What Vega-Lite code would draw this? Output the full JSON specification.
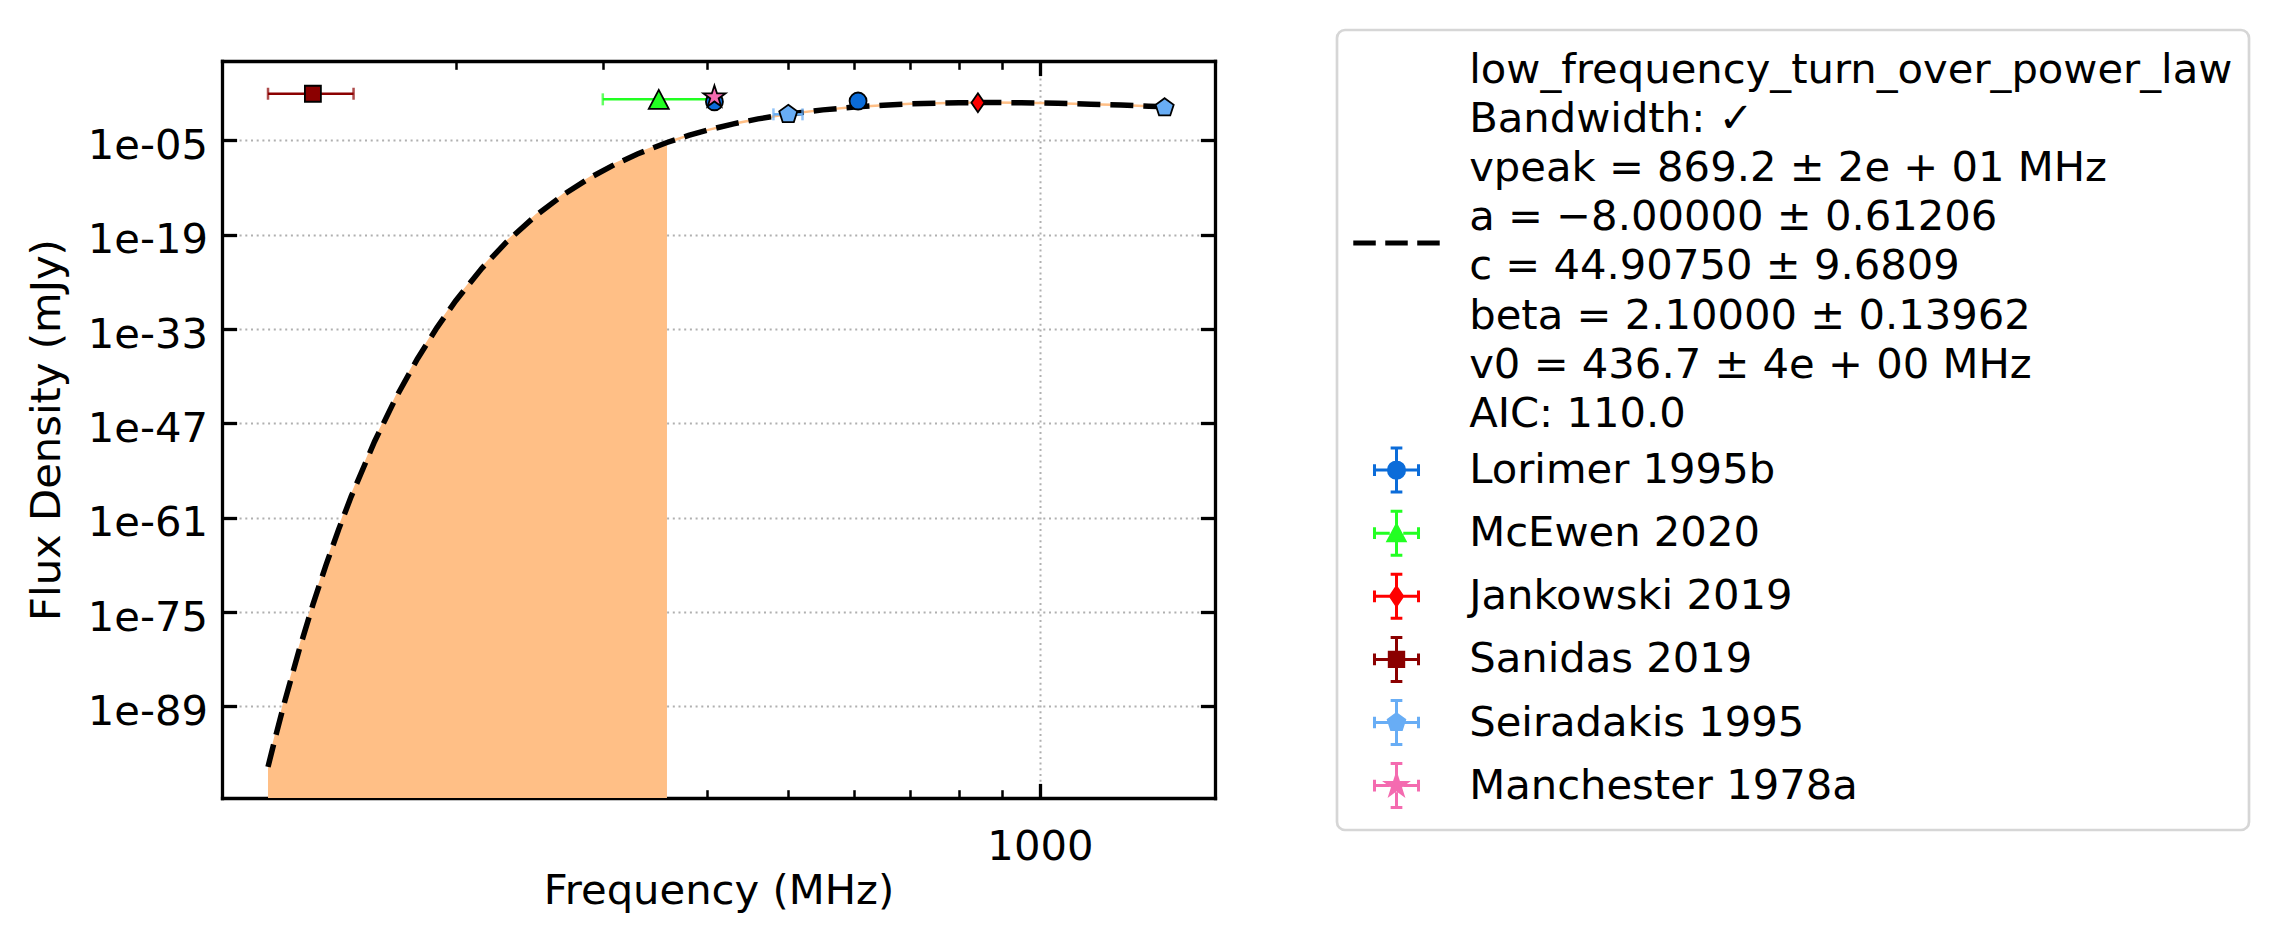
{
  "$schema": "https://vega.github.io/schema/vega-lite/v6.json",
  "width": 993,
  "height": 737,
  "padding": {"left": 26, "top": 28, "right": 5, "bottom": 5},
  "background": "white",
  "config": {
    "view": {"stroke": null},
    "font": "DejaVu Sans",
    "style": {"guide-label": {"lineHeight": 49.1}},
    "legend": {"strokeWidth": 2.7, "symbolOpacity": 1},
    "axis": {
      "labelFont": "DejaVu Sans", "titleFont": "DejaVu Sans",
      "labelFontSize": 41.7, "titleFontSize": 41.7,
      "labelColor": "black", "titleColor": "black", "titleFontWeight": "normal",
      "domainColor": "black", "domainWidth": 3.3, "domainCap": "square",
      "tickColor": "black", "tickWidth": 3.3,
      "gridColor": "#b0b0b0", "gridDash": [2, 3.7], "gridWidth": 2,
      "zindex": 1, "labelFlush": false, "labelOverlap": false
    }
  },
  "datasets": {
    "curve": [
      {"series": "fit", "freq": 119.3, "flux": 1.12e-98},
      {"series": "fit", "freq": 122, "flux": 7.41e-94},
      {"series": "fit", "freq": 125, "flux": 7.41e-89},
      {"series": "fit", "freq": 130, "flux": 2.63e-81},
      {"series": "fit", "freq": 135, "flux": 1.29e-74},
      {"series": "fit", "freq": 140, "flux": 1.07e-68},
      {"series": "fit", "freq": 145, "flux": 2.24e-63},
      {"series": "fit", "freq": 150, "flux": 1.38e-58},
      {"series": "fit", "freq": 160, "flux": 2.09e-50},
      {"series": "fit", "freq": 170, "flux": 1.02e-43},
      {"series": "fit", "freq": 180, "flux": 3.63e-38},
      {"series": "fit", "freq": 190, "flux": 1.66e-33},
      {"series": "fit", "freq": 200, "flux": 1.48e-29},
      {"series": "fit", "freq": 215, "flux": 1.05e-24},
      {"series": "fit", "freq": 230, "flux": 7.94e-21},
      {"series": "fit", "freq": 250, "flux": 8.71e-17},
      {"series": "fit", "freq": 270, "flux": 1.12e-13},
      {"series": "fit", "freq": 290, "flux": 3.09e-11},
      {"series": "fit", "freq": 310, "flux": 2.63e-9},
      {"series": "fit", "freq": 330, "flux": 9.55e-8},
      {"series": "fit", "freq": 358, "flux": 4.79e-6},
      {"series": "fit", "freq": 380, "flux": 5.37e-5},
      {"series": "fit", "freq": 400, "flux": 3.24e-4},
      {"series": "fit", "freq": 430, "flux": 2.82e-3},
      {"series": "fit", "freq": 460, "flux": 0.0151},
      {"series": "fit", "freq": 500, "flux": 0.0794},
      {"series": "fit", "freq": 550, "flux": 0.331},
      {"series": "fit", "freq": 600, "flux": 0.871},
      {"series": "fit", "freq": 650, "flux": 1.66},
      {"series": "fit", "freq": 700, "flux": 2.57},
      {"series": "fit", "freq": 750, "flux": 3.31},
      {"series": "fit", "freq": 800, "flux": 3.80},
      {"series": "fit", "freq": 870, "flux": 4.07},
      {"series": "fit", "freq": 950, "flux": 3.80},
      {"series": "fit", "freq": 1050, "flux": 3.09},
      {"series": "fit", "freq": 1150, "flux": 2.34},
      {"series": "fit", "freq": 1250, "flux": 1.70},
      {"series": "fit", "freq": 1350, "flux": 1.17},
      {"series": "fit", "freq": 1439, "flux": 0.871}
    ],
    "pts": [
      {"series": "Lorimer 1995b", "freq": 408, "flux": 5.3},
      {"series": "Lorimer 1995b", "freq": 606, "flux": 6.8},
      {"series": "McEwen 2020", "freq": 350, "flux": 12.1, "xlo": 300, "xhi": 400},
      {"series": "Jankowski 2019", "freq": 843, "flux": 3.8},
      {"series": "Sanidas 2019", "freq": 135, "flux": 82, "xlo": 119.3, "xhi": 151},
      {"series": "Seiradakis 1995", "freq": 500, "flux": 0.072, "xlo": 480, "xhi": 520},
      {"series": "Seiradakis 1995", "freq": 1410, "flux": 0.69},
      {"series": "Manchester 1978a", "freq": 408, "flux": 26.5}
    ]
  },
  "layer": [
    {
      "data": {"name": "curve"},
      "transform": [{"filter": "datum.freq <= 358"}],
      "mark": {"type": "area", "color": "#ffbf86", "opacity": 1, "clip": true},
      "encoding": {
        "x": {"field": "freq", "type": "quantitative", "scale": {"type": "log", "domain": [105.1, 1619.7], "nice": false},
          "axis": {"orient": "bottom", "values": [1000], "format": "d", "title": "Frequency (MHz)", "tickSize": -14.6, "labelPadding": 43, "titlePadding": 2, "grid": true}},
        "y": {"field": "flux", "type": "quantitative", "scale": {"type": "log", "domain": [2.63e-103, 5.9e6], "nice": false},
          "axis": {"orient": "left", "values": [1e-5, 1e-19, 1e-33, 1e-47, 1e-61, 1e-75, 1e-89], "labelExpr": "'1e-' + format(-round(log(datum.value) / LN10), '02d')", "title": "Flux Density (mJy)", "tickSize": -14.6, "labelPadding": 29, "labelOffset": 5, "titlePadding": 18.4, "grid": true}},
        "y2": {"datum": 1e-110}
      }
    },
    {
      "data": {"name": "curve"},
      "mark": {"type": "line", "color": "#ffbf86", "strokeWidth": 2.5, "clip": true},
      "encoding": {
        "x": {"field": "freq", "type": "quantitative", "scale": {"type": "log", "domain": [105.1, 1619.7], "nice": false},
          "axis": {"orient": "top", "values": [1000], "labels": false, "title": null, "tickSize": -14.6, "grid": false}},
        "y": {"field": "flux", "type": "quantitative", "scale": {"type": "log", "domain": [2.63e-103, 5.9e6], "nice": false},
          "axis": {"orient": "right", "values": [1e-5, 1e-19, 1e-33, 1e-47, 1e-61, 1e-75, 1e-89], "labels": false, "title": null, "tickSize": -14.6, "grid": false}}
      }
    },
    {
      "data": {"name": "curve"},
      "mark": {"type": "line", "strokeDash": [23, 10], "strokeWidth": 5.5, "clip": true},
      "encoding": {
        "x": {"field": "freq", "type": "quantitative", "scale": {"type": "log", "domain": [105.1, 1619.7], "nice": false},
          "axis": {"orient": "bottom", "values": [200, 300, 400, 500, 600, 700, 800, 900], "labels": false, "title": null, "tickSize": -8.3, "tickWidth": 2.5, "domain": false, "grid": false}},
        "y": {"field": "flux", "type": "quantitative", "scale": {"type": "log", "domain": [2.63e-103, 5.9e6], "nice": false}, "axis": null},
        "color": {"field": "series", "type": "nominal",
          "scale": {"domain": ["fit", "Lorimer 1995b", "McEwen 2020", "Jankowski 2019", "Sanidas 2019", "Seiradakis 1995", "Manchester 1978a"],
                    "range": ["#000000", "#0b6cd9", "#22ff22", "#ff0000", "#8b0000", "#68adf5", "#f46bb0"]},
          "legend": {
            "title": null, "orient": "none", "legendX": 1115, "legendY": -31, "direction": "vertical", "columns": 1,
            "padding": 16, "strokeColor": "#d6d6d6", "cornerRadius": 8, "fillColor": "white",
            "symbolSize": 2025, "symbolStrokeWidth": 3, "symbolOffset": 19.5, "symbolOpacity": 1, "labelOffset": 48.7, "rowPadding": 5.1,
            "labelFont": "DejaVu Sans", "labelFontSize": 41.7, "labelColor": "black", "labelLimit": 2000,
            "labelExpr": "datum.value == 'fit' ? ['low_frequency_turn_over_power_law', 'Bandwidth: ✓', 'vpeak = 869.2 ± 2e + 01 MHz', 'a = −8.00000 ± 0.61206', 'c = 44.90750 ± 9.6809', 'beta = 2.10000 ± 0.13962', 'v0 = 436.7 ± 4e + 00 MHz', 'AIC: 110.0'] : datum.label",
            "encode": {
              "labels": {
                "update": {
                  "text": {"signal": "datum.value == 'fit' ? ['low_frequency_turn_over_power_law', 'Bandwidth: ✓', 'vpeak = 869.2 ± 2e + 01 MHz', 'a = −8.00000 ± 0.61206', 'c = 44.90750 ± 9.6809', 'beta = 2.10000 ± 0.13962', 'v0 = 436.7 ± 4e + 00 MHz', 'AIC: 110.0'] : datum.label"}
                }
              },
              "symbols": {
                "update": {
                  "y": {"signal": "datum.size * 0.5 + (datum.value == 'fit' ? 173 : 0)"},
                  "shape": {"signal": "datum.value == 'fit' ? 'M-1.854,-0.044H-0.988V0.044H-1.854ZM-0.433,-0.044H0.433V0.044H-0.433ZM0.988,-0.044H1.854V0.044H0.988Z' : 'M-0.978,0H-0.3M0.3,0H0.978M0,-0.978V-0.3M0,0.3V0.978M-0.978,-0.26V0.26M0.978,-0.26V0.26M-0.26,-0.978H0.26M-0.26,0.978H0.26' + (datum.value == 'Lorimer 1995b' ? 'M0.36,0A0.36,0.36,0,1,1,-0.36,0A0.36,0.36,0,1,1,0.36,0Z' : datum.value == 'McEwen 2020' ? 'M0,-0.36L0.37,0.34L-0.37,0.34Z' : datum.value == 'Jankowski 2019' ? 'M0,-0.4L0.27,0L0,0.4L-0.27,0Z' : datum.value == 'Sanidas 2019' ? 'M-0.32,-0.32H0.32V0.32H-0.32Z' : datum.value == 'Seiradakis 1995' ? 'M0,-0.38L0.361,-0.117L0.223,0.307L-0.223,0.307L-0.361,-0.117Z' : 'M0,-0.46L0.103,-0.142L0.437,-0.142L0.167,0.054L0.27,0.372L0,0.176L-0.27,0.372L-0.167,0.054L-0.437,-0.142L-0.103,-0.142Z')"},
                  "fill": {"signal": "scale('color', datum.value)"},
                  "stroke": {"signal": "scale('color', datum.value)"},
                  "strokeWidth": {"value": 3},
                  "opacity": {"value": 1}
                }
              }
            }
          }}
      }
    },
    {
      "data": {"name": "pts"},
      "transform": [{"filter": "isValid(datum.xlo)"}],
      "mark": {"type": "rule", "strokeWidth": 2.5},
      "encoding": {
        "x": {"field": "xlo", "type": "quantitative", "scale": {"type": "log", "domain": [105.1, 1619.7], "nice": false},
          "axis": {"orient": "top", "values": [200, 300, 400, 500, 600, 700, 800, 900], "labels": false, "title": null, "tickSize": -8.3, "tickWidth": 2.5, "domain": false, "grid": false}},
        "x2": {"field": "xhi"},
        "y": {"field": "flux", "type": "quantitative", "scale": {"type": "log", "domain": [2.63e-103, 5.9e6], "nice": false}, "axis": null},
        "color": {"field": "series", "type": "nominal",
          "scale": {"domain": ["fit", "Lorimer 1995b", "McEwen 2020", "Jankowski 2019", "Sanidas 2019", "Seiradakis 1995", "Manchester 1978a"],
                    "range": ["#000000", "#0b6cd9", "#22ff22", "#ff0000", "#8b0000", "#68adf5", "#f46bb0"]}}
      }
    },
    {
      "data": {"name": "pts"},
      "transform": [{"filter": "isValid(datum.xlo)"}, {"fold": ["xlo", "xhi"], "as": ["end", "xe"]}],
      "mark": {"type": "tick", "orient": "vertical", "size": 12, "thickness": 2.5},
      "encoding": {
        "x": {"field": "xe", "type": "quantitative", "scale": {"type": "log", "domain": [105.1, 1619.7], "nice": false}, "axis": null},
        "y": {"field": "flux", "type": "quantitative", "scale": {"type": "log", "domain": [2.63e-103, 5.9e6], "nice": false}, "axis": null},
        "color": {"field": "series", "type": "nominal",
          "scale": {"domain": ["fit", "Lorimer 1995b", "McEwen 2020", "Jankowski 2019", "Sanidas 2019", "Seiradakis 1995", "Manchester 1978a"],
                    "range": ["#000000", "#0b6cd9", "#22ff22", "#ff0000", "#8b0000", "#68adf5", "#f46bb0"]}}
      }
    },
    {
      "data": {"name": "pts"},
      "mark": {"type": "point", "filled": true, "size": 400, "stroke": "black", "strokeWidth": 1.8, "opacity": 1},
      "encoding": {
        "x": {"field": "freq", "type": "quantitative", "scale": {"type": "log", "domain": [105.1, 1619.7], "nice": false}, "axis": null},
        "y": {"field": "flux", "type": "quantitative", "scale": {"type": "log", "domain": [2.63e-103, 5.9e6], "nice": false}, "axis": null},
        "shape": {"field": "series", "type": "nominal", "legend": null,
          "scale": {"domain": ["Lorimer 1995b", "McEwen 2020", "Jankowski 2019", "Sanidas 2019", "Seiradakis 1995", "Manchester 1978a"],
                    "range": [
                      "M0.85,0A0.85,0.85,0,1,1,-0.85,0A0.85,0.85,0,1,1,0.85,0Z",
                      "M0,-0.95L1,0.95L-1,0.95Z",
                      "M0,-0.95L0.65,0L0,0.95L-0.65,0Z",
                      "M-0.8,-0.8H0.8V0.8H-0.8Z",
                      "M0,-0.95L0.903,-0.294L0.558,0.769L-0.558,0.769L-0.903,-0.294Z",
                      "M0,-1.16L0.26,-0.358L1.103,-0.358L0.421,0.137L0.682,0.938L0,0.443L-0.682,0.938L-0.421,0.137L-1.103,-0.358L-0.26,-0.358Z"
                    ]}},
        "color": {"field": "series", "type": "nominal",
          "scale": {"domain": ["fit", "Lorimer 1995b", "McEwen 2020", "Jankowski 2019", "Sanidas 2019", "Seiradakis 1995", "Manchester 1978a"],
                    "range": ["#000000", "#0b6cd9", "#22ff22", "#ff0000", "#8b0000", "#68adf5", "#f46bb0"]}}
      }
    }
  ],
  "resolve": {"axis": {"x": "independent", "y": "independent"}}
}
